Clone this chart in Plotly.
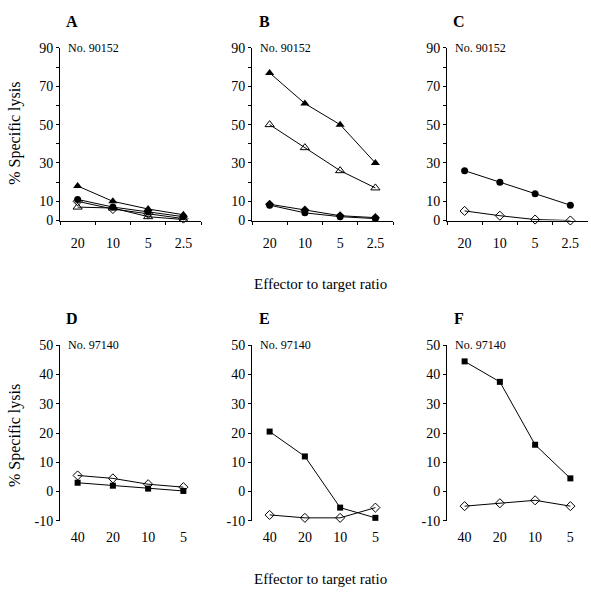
import plotly.graph_objects as go

W, H = 591, 598

ratios_top = ["20", "10", "5", "2.5"]
ratios_bottom = ["40", "20", "10", "5"]
yticks_top = [0, 10, 30, 50, 70, 90]
yminor_top = [20, 40, 60, 80]
yticks_bottom = [-10, 0, 10, 20, 30, 40, 50]

# Panel A (No. 90152)
A_tri_filled = [18, 10, 6, 3]
A_circle_filled = [11, 7, 4.5, 2]
A_diamond_open = [10, 6, 3.5, 1]
A_tri_open = [7, 6.5, 2, 0.5]
# Panel B
B_tri_filled = [77, 61, 50, 30]
B_tri_open = [50, 38, 26, 17]
B_circle_filled = [8, 4, 2, 1]
B_diamond_filled = [8.5, 5.5, 2.5, 1.5]
# Panel C
C_circle_filled = [26, 20, 14, 8]
C_diamond_open = [5, 2.5, 0.5, 0]
# Panel D (No. 97140)
D_diamond_open = [5.5, 4.5, 2.5, 1.5]
D_square_filled = [3, 2, 1, 0.2]
# Panel E
E_square_filled = [20.5, 12, -5.5, -9]
E_diamond_open = [-8, -9, -9, -5.5]
# Panel F
F_square_filled = [44.5, 37.5, 16, 4.5]
F_diamond_open = [-5, -4, -3, -5]

FONT = "Liberation Serif"

# layout in pixels
px_left = [60, 252, 447]
px_width = 141
top_y = (42, 219)      # pixel top, pixel bottom
bot_y = (347, 527)


def xd(p0):
    return [p0 / W, (p0 + px_width) / W]


def yd(t, b):
    return [1 - b / H, 1 - t / H]


fig = go.Figure()

sym = {
    "tri_filled": dict(symbol="triangle-up", color="black", size=8),
    "tri_open": dict(symbol="triangle-up-open", color="black", size=8),
    "circle_filled": dict(symbol="circle", color="black", size=7),
    "diamond_open": dict(symbol="diamond-open", color="black", size=7),
    "diamond_filled": dict(symbol="diamond", color="black", size=7),
    "square_filled": dict(symbol="square", color="black", size=6),
}

panels = [
    ("A", ratios_top, [("tri_filled", A_tri_filled), ("circle_filled", A_circle_filled),
                       ("diamond_open", A_diamond_open), ("tri_open", A_tri_open)]),
    ("B", ratios_top, [("tri_filled", B_tri_filled), ("tri_open", B_tri_open),
                       ("circle_filled", B_circle_filled), ("diamond_filled", B_diamond_filled)]),
    ("C", ratios_top, [("circle_filled", C_circle_filled), ("diamond_open", C_diamond_open)]),
    ("D", ratios_bottom, [("diamond_open", D_diamond_open), ("square_filled", D_square_filled)]),
    ("E", ratios_bottom, [("square_filled", E_square_filled), ("diamond_open", E_diamond_open)]),
    ("F", ratios_bottom, [("square_filled", F_square_filled), ("diamond_open", F_diamond_open)]),
]

tickfont = dict(family=FONT, size=14, color="black")

for i, (letter, cats, series) in enumerate(panels):
    n = i + 1
    xa = "x" if n == 1 else f"x{n}"
    ya = "y" if n == 1 else f"y{n}"
    for key, vals in series:
        fig.add_trace(go.Scatter(x=cats, y=vals, xaxis=xa, yaxis=ya, mode="lines+markers",
                                 line=dict(color="black", width=1), marker=sym[key],
                                 showlegend=False, cliponaxis=False, hoverinfo="skip"))
    col = i % 3
    top = i < 3
    t, b = top_y if top else bot_y
    xdom = xd(px_left[col])
    ydom = yd(t, b)
    if top:
        yr = [0, 90]
        ytv = yticks_top
        yminor = yminor_top
        label = "No. 90152"
    else:
        yr = [-10, 50]
        ytv = yticks_bottom
        yminor = []
        label = "No. 97140"
    xkey = "xaxis" if n == 1 else f"xaxis{n}"
    ykey = "yaxis" if n == 1 else f"yaxis{n}"
    xcfg = dict(domain=xdom, anchor=ya, type="category", categoryorder="array",
                categoryarray=cats, range=[-0.5, 3.5], tickfont=tickfont,
                showgrid=False, zeroline=False, fixedrange=True)
    if top:
        xcfg.update(showline=True, linecolor="black", linewidth=1, ticks="outside",
                    tickson="boundaries", ticklen=3, tickcolor="black", ticklabelstandoff=10)
    else:
        xcfg.update(showline=False, ticks="", ticklabelstandoff=6)
    fig.layout[xkey] = xcfg
    fig.layout[ykey] = dict(domain=ydom, anchor=xa, range=yr, tickmode="array", tickvals=ytv,
                            ticktext=[str(v) for v in ytv],
                            ticks="outside", ticklen=3, tickcolor="black", showline=True,
                            linecolor="black", linewidth=1, showgrid=False, zeroline=False,
                            tickfont=tickfont, fixedrange=True,
                            minor=dict(tickvals=yminor, ticks="outside", ticklen=3, tickcolor="black"))
    if not top:
        # axis line at y = 0 with boundary ticks
        ov = 6 + i
        okey = f"xaxis{ov}"
        pos = ydom[0] + (0 - yr[0]) / (yr[1] - yr[0]) * (ydom[1] - ydom[0])
        fig.layout[okey] = dict(domain=xdom, overlaying=xa, anchor="free", position=pos,
                                range=[-0.5, 3.5], tickmode="array",
                                tickvals=[-0.5, 0.5, 1.5, 2.5, 3.5], showticklabels=False,
                                ticks="outside", ticklen=3, tickcolor="black", showline=True,
                                linecolor="black", linewidth=1, showgrid=False, zeroline=False,
                                fixedrange=True)
    # panel letter
    fig.add_annotation(text=f"<b>{letter}</b>", xref="paper", yref="paper",
                       x=(px_left[col] + 12) / W, y=1 - (t - 27) / H, showarrow=False,
                       font=dict(family=FONT, size=16, color="black"), xanchor="center", yanchor="middle")
    fig.add_annotation(text=label, xref="paper", yref="paper",
                       x=(px_left[col] + 6) / W, y=1 - t / H, showarrow=False,
                       font=dict(family=FONT, size=12, color="black"), xanchor="left", yanchor="middle")

for yc in [130, 440]:
    fig.add_annotation(text="% Specific lysis", xref="paper", yref="paper", x=15 / W, y=1 - yc / H,
                       textangle=-90, showarrow=False,
                       font=dict(family=FONT, size=16, color="black"), xanchor="center", yanchor="middle")
for yc in [284, 587]:
    fig.add_annotation(text="Effector to target ratio", xref="paper", yref="paper", x=320 / W,
                       y=1 - yc / H, showarrow=False,
                       font=dict(family=FONT, size=15, color="black"), xanchor="center", yanchor="middle")

fig.update_layout(width=W, height=H, margin=dict(l=0, r=0, t=0, b=0),
                  paper_bgcolor="white", plot_bgcolor="white", font=dict(family=FONT))

fig.write_html("out.html", config={"displayModeBar": False},
               post_script="document.body.style.margin='0';document.body.style.overflow='hidden';")
